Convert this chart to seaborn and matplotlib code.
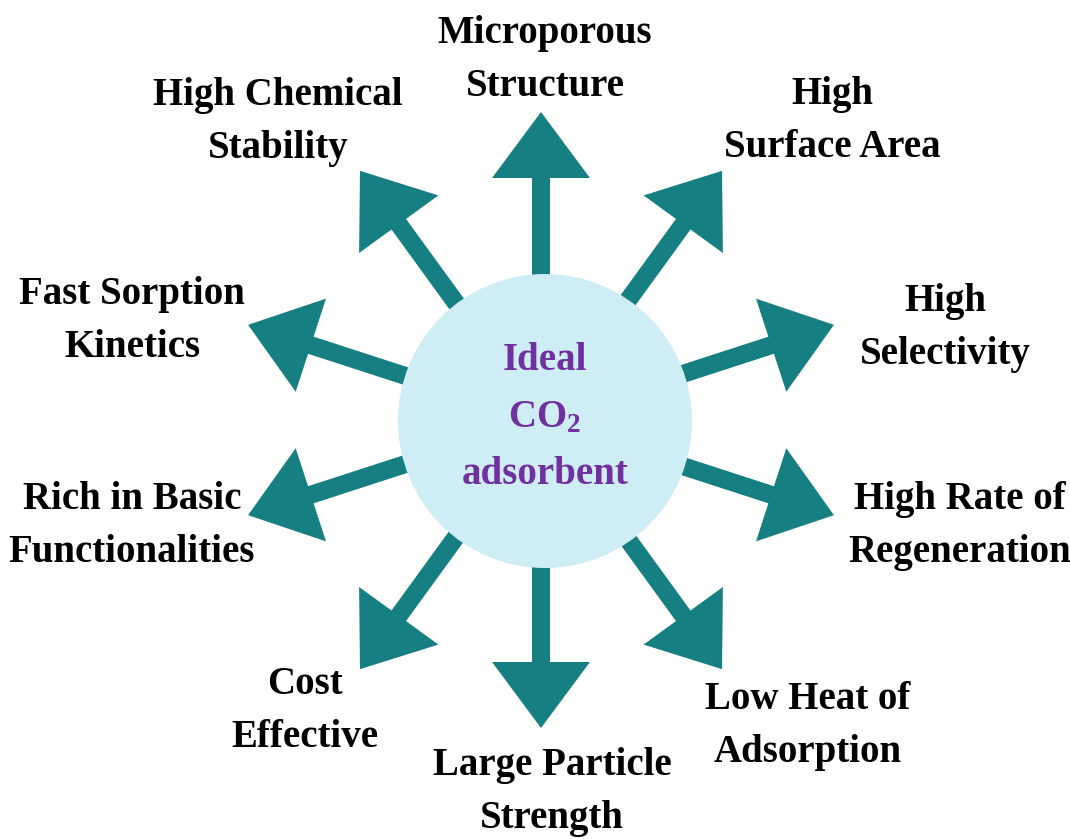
import numpy as np
import matplotlib
matplotlib.use("Agg")
import matplotlib.pyplot as plt
from matplotlib.patches import Circle
import seaborn as sns

# properties of an ideal CO2 adsorbent, clockwise from the top
properties = [
    "Microporous\nStructure",
    "High\nSurface Area",
    "High\nSelectivity",
    "High Rate of\nRegeneration",
    "Low Heat of\nAdsorption",
    "Large Particle\nStrength",
    "Cost\nEffective",
    "Rich in Basic\nFunctionalities",
    "Fast Sorption\nKinetics",
    "High Chemical\nStability",
]
# arrow directions in degrees (counter-clockwise from +x)
angles = [90, 54, 18, -18, -54, -90, -126, -162, 162, 126]
center_lines = ["Ideal", "CO$_2$", "adsorbent"]

# layout (pixel coords of the label centres)
label_pos = [(545, 60), (832, 121), (945, 328), (960, 526), (808, 726),
             (552, 792), (305, 711), (132, 526), (132, 321), (278, 122)]

teal = "#167f82"
purple = "#7030a0"
disk = "#cfedf5"

sns.set_theme(style="white")
plt.rcParams["font.family"] = ["Liberation Serif", "DejaVu Serif"]
plt.rcParams["mathtext.fontset"] = "custom"
plt.rcParams["mathtext.rm"] = "Liberation Serif:bold"
plt.rcParams["mathtext.default"] = "rm"

fig = plt.figure(figsize=(10.7, 8.39), dpi=100)
ax = fig.add_axes([0, 0, 1, 1])
ax.set_xlim(0, 1070)
ax.set_ylim(839, 0)
ax.axis("off")

cx, cy = 541, 420
arrow_len = 308
for a in angles:
    t = np.deg2rad(a)
    ax.arrow(cx, cy, arrow_len * np.cos(t), -arrow_len * np.sin(t),
             width=18, head_width=98, head_length=66,
             length_includes_head=True, color=teal, lw=0, zorder=2)

ax.add_patch(Circle((545, 421), 147, color=disk, lw=0, zorder=3))

for txt, (x, y) in zip(properties, label_pos):
    ax.text(x, y, txt, ha="center", va="center", fontsize=28,
            fontweight="bold", color="black", linespacing=1.56, zorder=4)

for i, line in enumerate(center_lines):
    ax.text(545, 361 + i * 57, line, ha="center", va="center", fontsize=28,
            fontweight="bold", color=purple, zorder=4)

fig.savefig("out.png", dpi=100)
